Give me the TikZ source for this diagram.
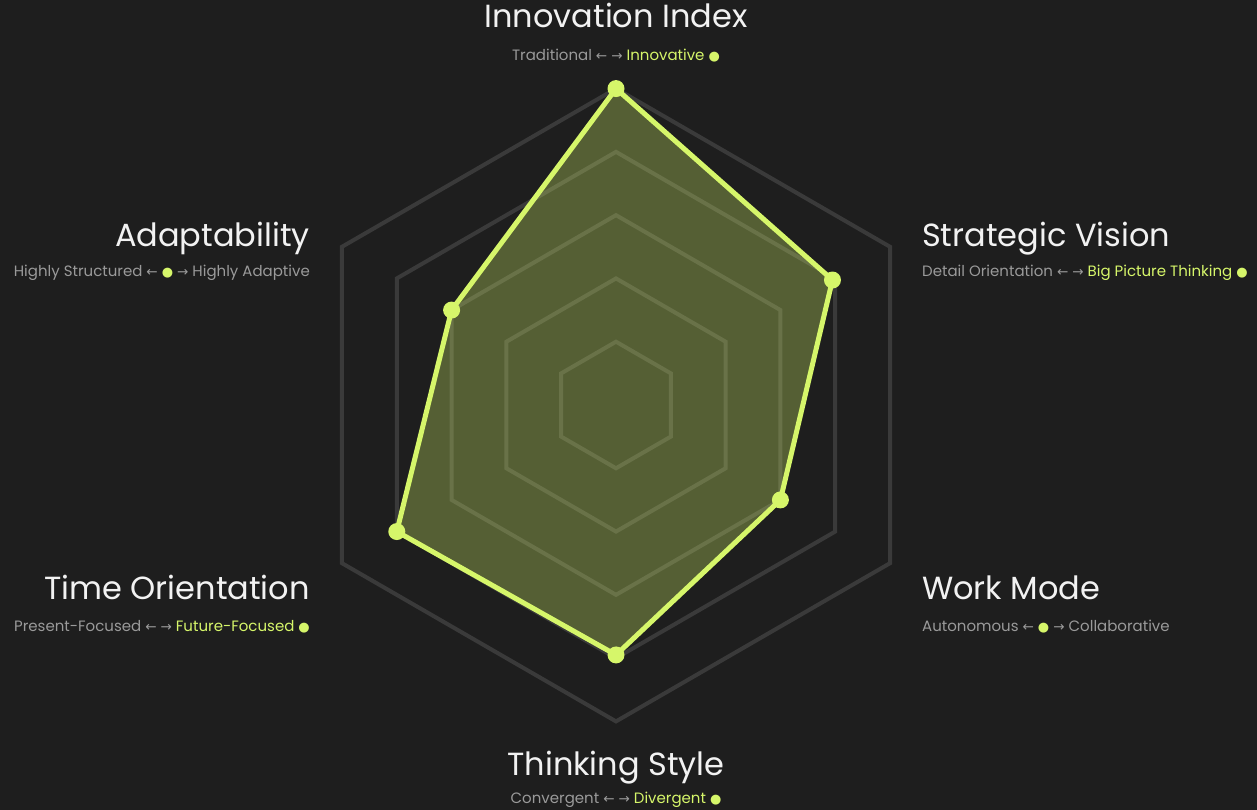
\documentclass[tikz,border=0pt]{standalone}
\usepackage{fontspec}
\setmainfont{Poppins}
\newfontfamily\symfont{DejaVu Sans}
\definecolor{bg}{HTML}{1E1E1E}
\definecolor{ringc}{HTML}{3A3A3A}
\definecolor{lime}{HTML}{D6F66A}
\definecolor{subgray}{HTML}{9A9A9A}
\definecolor{titlec}{HTML}{F2F2F2}
\newcommand{\la}{{\symfont\fontsize{13.5}{16}\selectfont ←}}
\newcommand{\ra}{{\symfont\fontsize{13.5}{16}\selectfont →}}
\newcommand{\dt}{{\color{lime}\symfont\fontsize{13}{16}\selectfont ●}}
\tikzset{
  ring/.style={draw=ringc, line width=4pt, line join=miter},
  datafill/.style={fill=lime, fill opacity=0.3},
  dataline/.style={draw=lime, line width=5pt, line join=round},
  datadot/.style={circle, fill=lime, minimum size=17pt, inner sep=0pt},
  ttl/.style={text=titlec, font=\fontsize{32}{36}\selectfont, inner sep=0pt, anchor=base},
  sub/.style={text=subgray, font=\fontsize{15}{18}\selectfont, inner sep=0pt, anchor=base}
}
\begin{document}
\begin{tikzpicture}[x=1pt,y=1pt]
\fill[bg] (0,0) rectangle (1257,810);
\useasboundingbox (0,0) rectangle (1257,810);
\coordinate (C) at (616,405);
\def\R{316.4}
\begin{scope}[shift={(C)}]
\foreach \k in {1,...,5}{
  \pgfmathsetmacro{\r}{\k*\R/5}
  \draw[ring] (90:\r) -- (30:\r) -- (-30:\r) -- (-90:\r) -- (210:\r) -- (150:\r) -- cycle;
}
\coordinate (pInn) at (90:{1.0*\R});
\coordinate (pStr) at (30:{0.79*\R});
\coordinate (pWrk) at (-30:{0.6*\R});
\coordinate (pThk) at (-90:{0.79*\R});
\coordinate (pTim) at (210:{0.8*\R});
\coordinate (pAda) at (150:{0.6*\R});
\end{scope}
\fill[datafill] (pInn) -- (pStr) -- (pWrk) -- (pThk) -- (pTim) -- (pAda) -- cycle;
\draw[dataline] (pInn) -- (pStr) -- (pWrk) -- (pThk) -- (pTim) -- (pAda) -- cycle;
\foreach \p in {pInn,pStr,pWrk,pThk,pTim,pAda}{
  \node[datadot] (d\p) at (\p) {};
}
% labels
\node[ttl] (tInn) at (616,782) {Innovation Index};
\node[sub] (sInn) at (616,749) {Traditional \la{} \ra{} {\color{lime}Innovative} \dt};
\node[ttl, anchor=base west] (tStr) at (922,563) {Strategic Vision};
\node[sub, anchor=base west] (sStr) at (922,533) {Detail Orientation \la{} \ra{} {\color{lime}Big Picture Thinking} \dt};
\node[ttl, anchor=base west] (tWrk) at (922,210) {Work Mode};
\node[sub, anchor=base west] (sWrk) at (922,178) {Autonomous \la{} \dt{} \ra{} Collaborative};
\node[ttl] (tThk) at (616,34) {Thinking Style};
\node[sub] (sThk) at (616,6) {Convergent \la{} \ra{} {\color{lime}Divergent} \dt};
\node[ttl, anchor=base east] (tTim) at (310,210) {Time Orientation};
\node[sub, anchor=base east] (sTim) at (310,178) {Present-Focused \la{} \ra{} {\color{lime}Future-Focused} \dt};
\node[ttl, anchor=base east] (tAda) at (310,563) {Adaptability};
\node[sub, anchor=base east] (sAda) at (310,533) {Highly Structured \la{} \dt{} \ra{} Highly Adaptive};
\end{tikzpicture}
\end{document}
